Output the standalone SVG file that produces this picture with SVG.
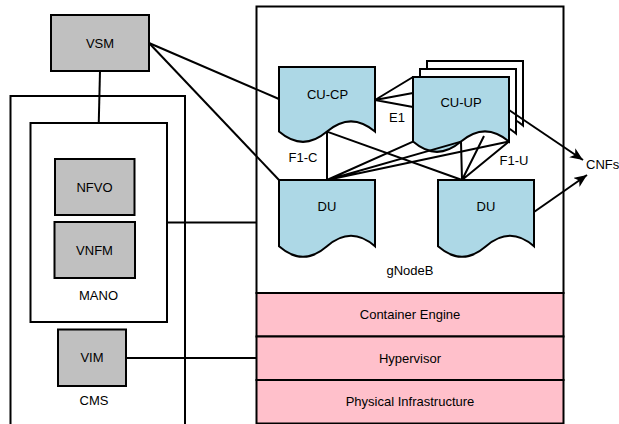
<svg xmlns="http://www.w3.org/2000/svg" width="619" height="424" viewBox="0 0 619 424">
  <style>
    .box { stroke: #000; stroke-width: 2; }
    .white { fill: #fff; }
    .gray { fill: #c0c0c0; }
    .blue { fill: #add8e6; }
    .pink { fill: #ffc0cb; }
    .edge { fill: none; stroke: #000; stroke-width: 2; }
    text { font-family: "Liberation Sans", Arial, sans-serif; font-size: 13px; fill: #000; text-anchor: middle; }
    .start { text-anchor: start; }
  </style>
  <defs>
    <marker id="arrow" markerUnits="userSpaceOnUse" markerWidth="14" markerHeight="12" refX="13" refY="5.5" orient="auto">
      <path d="M0,0 L13,5.5 L0,11 L3.5,5.5 Z" fill="#000"/>
    </marker>
  </defs>

  <!-- containers -->
  <g id="cms">
    <rect class="box white" x="10.5" y="96" width="174.5" height="340"/>
    <text x="94" y="404.6">CMS</text>
  </g>
  <g id="mano">
    <rect class="box white" x="30.5" y="123" width="136.5" height="199"/>
    <text x="98.5" y="300.3">MANO</text>
  </g>
  <g id="gnodeb">
    <rect class="box white" x="256.5" y="6.5" width="307" height="286.5"/>
    <text x="410" y="275">gNodeB</text>
  </g>

  <!-- infrastructure layers -->
  <g id="container-engine">
    <rect class="box pink" x="256.5" y="293" width="307" height="43.5"/>
    <text x="410" y="319.4">Container Engine</text>
  </g>
  <g id="hypervisor">
    <rect class="box pink" x="256.5" y="336.5" width="307" height="43.5"/>
    <text x="410" y="362.9">Hypervisor</text>
  </g>
  <g id="physical-infrastructure">
    <rect class="box pink" x="256.5" y="380" width="307" height="43.5"/>
    <text x="410" y="406.4">Physical Infrastructure</text>
  </g>

  <!-- management nodes -->
  <g id="vsm">
    <rect class="box gray" x="51" y="15" width="98" height="56"/>
    <text x="100" y="47.5">VSM</text>
  </g>
  <g id="nfvo">
    <rect class="box gray" x="55" y="159" width="79.5" height="56"/>
    <text x="94.5" y="191.5">NFVO</text>
  </g>
  <g id="vnfm">
    <rect class="box gray" x="54.5" y="222" width="80.5" height="56"/>
    <text x="94.5" y="254.5">VNFM</text>
  </g>
  <g id="vim">
    <rect class="box gray" x="58" y="329.5" width="68" height="56.5"/>
    <text x="92" y="362">VIM</text>
  </g>

  <!-- RAN functions (document shapes) -->
  <g id="cu-cp">
    <path class="box blue" d="M279,67 H375 V131.6 Q351,111.08 327,131.6 Q303,152.12 279,131.6 Z"/>
    <text x="327.5" y="98.7">CU-CP</text>
  </g>
  <g id="cu-up">
    <path class="box white" d="M427,61 H523 V125.6 Q499,105.08 475,125.6 Q451,146.12 427,125.6 Z"/>
    <path class="box white" d="M420,69 H516 V133.6 Q492,113.08 468,133.6 Q444,154.12 420,133.6 Z"/>
    <path class="box blue" d="M413,77 H509 V141.6 Q485,121.08 461,141.6 Q437,162.12 413,141.6 Z"/>
    <text x="461" y="107.3">CU-UP</text>
  </g>
  <g id="du-1">
    <path class="box blue" d="M279,180 H375 V246.3 Q351,225.24 327,246.3 Q303,267.36 279,246.3 Z"/>
    <text x="327" y="211.3">DU</text>
  </g>
  <g id="du-2">
    <path class="box blue" d="M438,180 H534 V246.3 Q510,225.24 486,246.3 Q462,267.36 438,246.3 Z"/>
    <text x="486" y="210.5">DU</text>
  </g>
  <g id="cnfs">
    <text class="start" x="586" y="168.6">CNFs</text>
  </g>

  <!-- connectors -->
  <g id="connectors">
    <path class="edge" d="M100,71 L98.75,123"/>
    <path class="edge" d="M149,43 L279,99"/>
    <path class="edge" d="M149,43 L279,180"/>
    <path class="edge" d="M167,222.5 L256.5,222.5"/>
    <path class="edge" d="M126,358 L256.5,358"/>
    <!-- E1 -->
    <path class="edge" d="M375,100 L413,77 M375,100 L413,93 M375,100 L413,107"/>
    <!-- F1-C -->
    <path class="edge" d="M327,131.6 L327,180"/>
    <path class="edge" d="M327,131.6 L462,180"/>
    <!-- F1-U -->
    <path class="edge" d="M327,180 L413,141.6 M327,180 L461,141.6 M327,180 L509,141.6"/>
    <path class="edge" d="M462,180 L461,141.6 M462,180 L484,136 M462,180 L509,141.6"/>
    <!-- to CNFs -->
    <path class="edge" d="M509,110 L583,160" marker-end="url(#arrow)"/>
    <path class="edge" d="M534,212 L587,175" marker-end="url(#arrow)"/>
    <text x="397" y="121.5">E1</text>
    <text x="303" y="161.5">F1-C</text>
    <text x="514" y="164.6">F1-U</text>
  </g>
</svg>
